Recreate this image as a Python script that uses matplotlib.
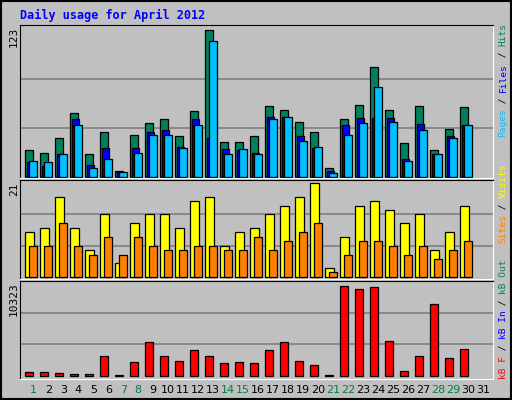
import numpy as np
import matplotlib.pyplot as plt

days = list(range(1, 32))
hits = [22, 20, 32, 53, 19, 37, 5, 35, 45, 48, 34, 55, 123, 29, 29, 34, 59, 56, 46, 37, 7, 48, 60, 92, 56, 28, 59, 22, 40, 58, 0]
files = [12, 9, 19, 48, 10, 24, 4, 24, 37, 39, 25, 48, 32, 23, 22, 20, 50, 50, 34, 24, 5, 43, 49, 49, 49, 15, 44, 19, 34, 43, 0]
pages = [13, 12, 19, 43, 7, 15, 4, 20, 35, 35, 24, 43, 114, 19, 23, 19, 48, 50, 30, 25, 3, 35, 45, 75, 46, 13, 39, 19, 32, 43, 0]
visits = [10, 11, 18, 11, 6, 14, 3, 12, 14, 14, 11, 17, 18, 7, 10, 11, 14, 16, 18, 21, 2, 9, 16, 17, 15, 12, 14, 6, 10, 16, 0]
sites = [7, 7, 12, 7, 5, 9, 5, 9, 7, 6, 6, 7, 7, 6, 6, 9, 6, 8, 10, 12, 1, 5, 8, 8, 7, 5, 7, 4, 6, 8, 0]
kbytes = [467, 467, 360, 252, 252, 2194, 108, 1547, 3705, 2194, 1655, 2841, 2194, 1439, 1547, 1439, 2841, 3705, 1655, 1223, 108, 9855, 9532, 9748, 3813, 575, 2194, 7913, 1978, 2949, 0]
weekends = [1, 7, 8, 14, 15, 21, 22, 28, 29]
max_hits, max_visits, max_kb = 123, 21, 10323

W, H = 512, 400
bg = '#C0C0C0'
fig = plt.figure(figsize=(W / 100, H / 100), dpi=100, facecolor=bg)
mono = 'DejaVu Sans Mono'
x = np.array(days)


def make_ax(top, bottom, ymax, lo, hi):
    ax = fig.add_axes([20 / W, 1 - bottom / H, 473 / W, (bottom - top) / H])
    ax.set_facecolor(bg)
    ax.set_xlim(0.11, 31.65)
    ax.set_ylim(lo, hi)
    for f in (1 / 3, 2 / 3):
        ax.axhline(ymax * f, color='#808080', lw=1.2, zorder=0)
    ax.set_xticks([])
    ax.set_yticks([])
    for s in ax.spines.values():
        s.set_color('black')
    ax.spines['right'].set_color('white')
    ax.spines['bottom'].set_color('white')
    return ax


def bars(ax, offset, vals, width, color):
    v = np.array(vals)
    m = v > 0
    ax.bar(x[m] + offset, v[m], width, color=color, edgecolor='black', linewidth=0.9)


ax1 = make_ax(25, 178, max_hits, -1.1, 127)
bars(ax1, -0.30, hits, 0.5, '#008060')
bars(ax1, -0.17, files, 0.45, '#0000FF')
bars(ax1, -0.03, pages, 0.5, '#00C0FF')

ax2 = make_ax(180, 279, max_visits, -0.5, 21.75)
bars(ax2, -0.25, visits, 0.55, '#FFFF00')
bars(ax2, -0.03, sites, 0.5, '#FF8000')

ax3 = make_ax(281, 379, max_kb, -350, 10400)
bars(ax3, -0.30, kbytes, 0.5, '#FF0000')

for d in days:
    fig.text((33.3 + 15 * (d - 1)) / W, 1 - 390 / H, str(d), ha='center', va='center',
             fontsize=8, color='#008040' if d in weekends else 'black')

fig.text(20 / W, 1 - 15 / H, 'Daily usage for April 2012', fontsize=8.5, family=mono,
         weight='bold', color='#0000FF', va='center')

for label, ytop in [('123', 27), ('21', 182), ('10323', 282)]:
    fig.text(14 / W, 1 - ytop / H, label, rotation=90, ha='center', va='top',
             fontsize=8, family=mono)


def side_label(pieces, ybottom):
    y = ybottom
    for txt, col in pieces:
        fig.text(503 / W, 1 - y / H, txt, rotation=90, ha='center', va='bottom',
                 fontsize=6.8, family=mono, color=col)
        y -= len(txt) * 5.67


side_label([('Pages', '#00C0FF'), (' / ', 'black'), ('Files', '#0000FF'),
            (' / ', 'black'), ('Hits', '#008060')], 137)
side_label([('Sites', '#FF8000'), (' / ', 'black'), ('Visits', '#FFFF00')], 243)
side_label([('kB F', '#FF0000'), (' / ', 'black'), ('kB In', '#0000FF'),
            (' / ', 'black'), ('kB Out', '#008060')], 379)

fig.patches.append(plt.Rectangle((0.002, 0.002), 0.996, 0.996, transform=fig.transFigure,
                                 fill=False, edgecolor='black', lw=1.5))
fig.savefig('out.png', dpi=100, facecolor=bg)
